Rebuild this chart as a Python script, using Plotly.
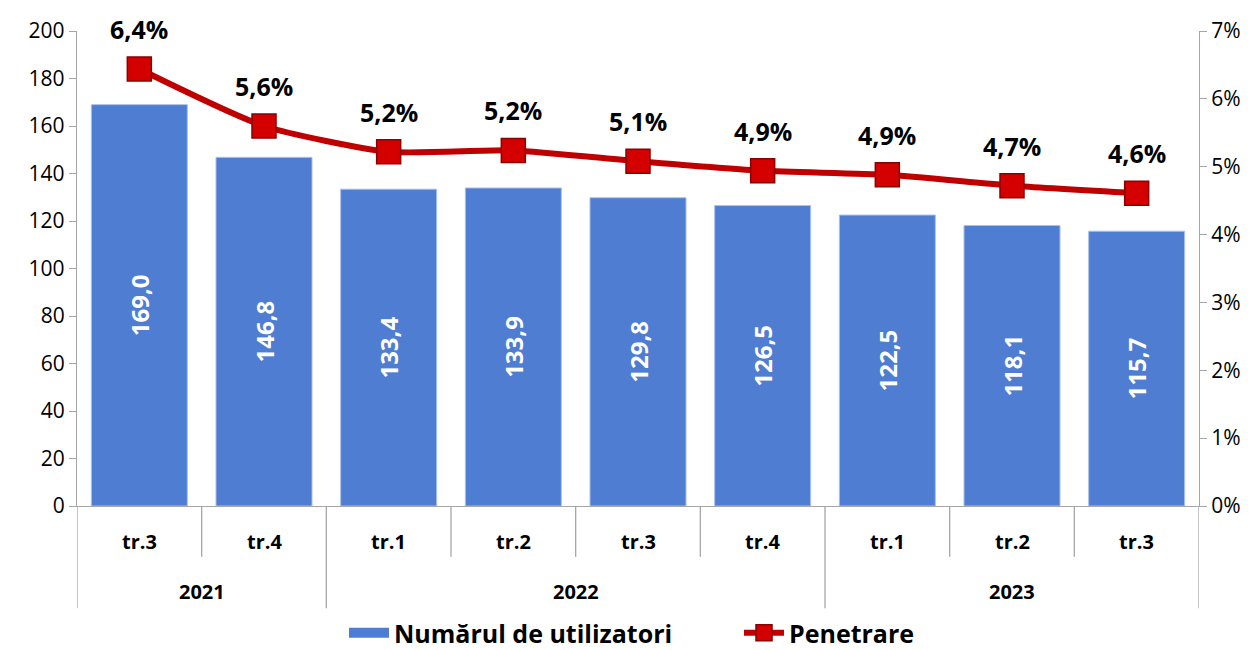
import plotly.graph_objects as go

years = ["2021", "2021", "2022", "2022", "2022", "2022", "2023", "2023", "2023"]
quarters = ["tr.3", "tr.4", "tr.1", "tr.2", "tr.3", "tr.4", "tr.1", "tr.2", "tr.3"]
users = [169.0, 146.8, 133.4, 133.9, 129.8, 126.5, 122.5, 118.1, 115.7]
penetration = [0.0644, 0.056, 0.0522, 0.0524, 0.0508, 0.0494, 0.0488, 0.0472, 0.0461]

FONT = "Open Sans"
AX = "#A6A6A6"
BLUE = "#4E7DD1"
W, H = 1266, 658

idx = list(range(len(users)))
bar_text = [f"{v:.1f}".replace(".", ",") for v in users]
pen_text = [f"{v*100:.1f}%".replace(".", ",") for v in penetration]

fig = go.Figure()
fig.add_trace(go.Bar(
    x=idx, y=users, name="Numărul de utilizatori", showlegend=False,
    marker=dict(color=BLUE, line=dict(color="#A9C0EA", width=1)),
    text=bar_text, textposition="inside", insidetextanchor="middle",
    textangle=-90, constraintext="none",
    textfont=dict(family=FONT, size=24, color="white", weight="bold"),
    yaxis="y",
))
# legend proxy for the bar series (wide rectangle symbol)
fig.add_trace(go.Scatter(
    x=[None], y=[None], name="Numărul de utilizatori", mode="lines",
    line=dict(color=BLUE, width=17), yaxis="y", showlegend=True,
))
fig.add_trace(go.Scatter(
    x=idx, y=penetration, name="Penetrare", mode="lines+markers",
    line=dict(color="#C00000", width=6, shape="spline", smoothing=0.6),
    marker=dict(symbol="square", size=24, color="#D40000",
                line=dict(color="#8B0000", width=1.5)),
    yaxis="y2",
))
for i, (p, t) in enumerate(zip(penetration, pen_text)):
    fig.add_annotation(x=i, y=p, xref="x", yref="y2", text=t, showarrow=False,
                       yshift=40, font=dict(family=FONT, size=25, color="black", weight="bold"))

# category axis labels
for i, q in enumerate(quarters):
    fig.add_annotation(x=i, y=-0.074, xref="x", yref="paper", text=q, showarrow=False,
                       yanchor="middle", font=dict(family=FONT, size=20, color="black", weight="bold"))
groups = []
for i, y in enumerate(years):
    if groups and groups[-1][0] == y:
        groups[-1][2] = i
    else:
        groups.append([y, i, i])
for y, a, b in groups:
    fig.add_annotation(x=(a + b) / 2, y=-0.181, xref="x", yref="paper", text=y, showarrow=False,
                       yanchor="middle", font=dict(family=FONT, size=20, color="black", weight="bold"))
year_bounds = set([g[1] - 0.5 for g in groups] + [groups[-1][2] + 0.5])
for k in range(len(users) + 1):
    xb = k - 0.5
    y1 = -0.215 if xb in year_bounds else -0.107
    fig.add_shape(type="line", xref="x", yref="paper", x0=xb, x1=xb, y0=0, y1=y1,
                  line=dict(color=AX, width=1.3))

fig.update_layout(
    width=W, height=H,
    margin=dict(l=69, r=W - 1191, t=23, b=H - 498, autoexpand=False),
    plot_bgcolor="white", paper_bgcolor="white",
    bargap=0.23,
    font=dict(family=FONT, color="black"),
    xaxis=dict(range=[-0.5, len(users) - 0.5], showticklabels=False, showgrid=False,
               zeroline=False, showline=True, linecolor=AX, linewidth=1.3, ticks="",
               automargin=False),
    yaxis=dict(range=[0, 200], dtick=20, showgrid=False, zeroline=False, showline=True,
               linecolor=AX, linewidth=1.3, ticks="outside", ticklen=7, tickcolor=AX,
               tickfont=dict(family=FONT, size=21, color="black"), automargin=False),
    yaxis2=dict(range=[0, 0.07], dtick=0.01, tickformat=".0%", overlaying="y", side="right",
                showgrid=False, zeroline=False, showline=True, linecolor=AX, linewidth=1.3,
                ticks="outside", ticklen=7, tickcolor=AX,
                tickfont=dict(family=FONT, size=21, color="black"), automargin=False),
    legend=dict(orientation="h", x=(336 - 69) / 1122, xanchor="left", yref="container",
                y=(H - 625) / H, yanchor="middle",
                font=dict(family=FONT, size=25, color="black", weight="bold"),
                itemwidth=40, tracegroupgap=0, traceorder="normal",
                entrywidth=340, entrywidthmode="pixels"),
    showlegend=True,
)

fig.write_html("out.html")
